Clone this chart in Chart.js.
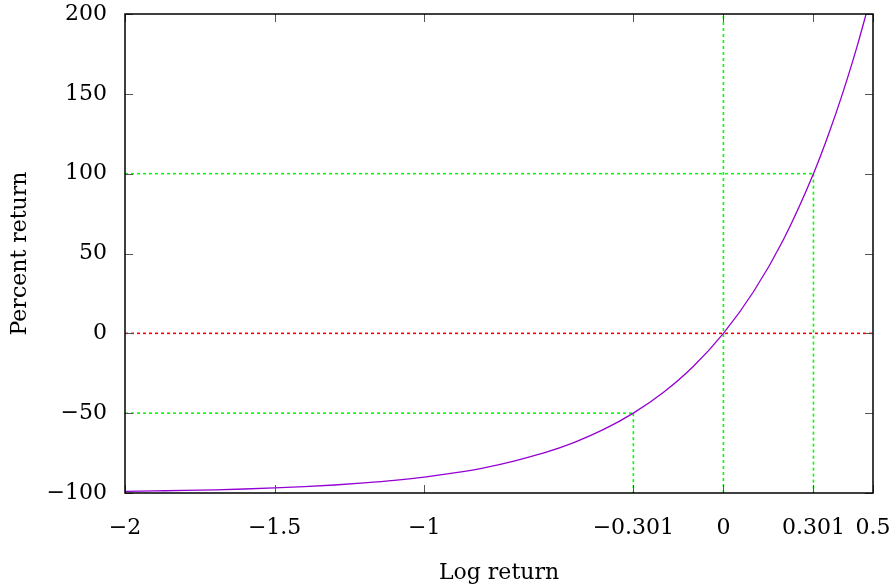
<!DOCTYPE html>
<html>
<head>
<meta charset="utf-8">
<script src="https://cdn.jsdelivr.net/npm/chart.js@4/dist/chart.umd.min.js"></script>
<style>
  html, body { margin: 0; padding: 0; background: #fff; }
  #wrap { width: 892px; height: 586px; }
</style>
</head>
<body>
<div id="wrap"><canvas id="returnChart" width="892" height="586"></canvas></div>
<script>
// log return vs percent return
var logReturn = [-2, -1.9, -1.8, -1.7, -1.6, -1.5, -1.4, -1.3, -1.2, -1.1, -1.0,
                 -0.9, -0.8, -0.7, -0.6, -0.5, -0.4, -0.301, -0.2, -0.1, 0,
                 0.1, 0.2, 0.301, 0.35, 0.4, 0.45, 0.477];
var percentReturn = [-99.0, -98.7, -98.4, -98.0, -97.5, -96.8, -96.0, -95.0, -93.7, -92.1, -90.0,
                     -87.4, -84.2, -80.0, -74.9, -68.4, -60.2, -50.0, -36.9, -20.6, 0,
                     25.9, 58.5, 100, 123.9, 151.2, 181.8, 200];

// guide lines: doubling, halving, break-even
var guideLog = [-0.301, 0, 0.301];
var guidePct = [-50, 0, 100];

var xTicks = [-2, -1.5, -1, -0.301, 0, 0.301, 0.5];
var yTicks = [-100, -50, 0, 50, 100, 150, 200];

var xMin = -2, xMax = 0.5, yMin = -100, yMax = 200;

var green = '#00ff00';
var red = '#ff0000';
var dots = [3, 3];
var serif = "'DejaVu Serif', serif";

function minus(v) {
	return String(v).replace('-', '\u2212');
}

function guide(points, color) {
	return {
		data: points,
		borderColor: color,
		borderWidth: 1.6,
		borderDash: dots,
		pointRadius: 0,
		pointHoverRadius: 0,
		showLine: true,
		fill: false,
		order: 1
	};
}

var curve = logReturn.map(function(v, i) { return {x: v, y: percentReturn[i]}; });

var datasets = [{
	label: 'return',
	data: curve,
	borderColor: '#9400d3',
	borderWidth: 1.3,
	pointRadius: 0,
	pointHoverRadius: 0,
	showLine: true,
	fill: false,
	cubicInterpolationMode: 'monotone',
	order: 0
},
	// break-even
	guide([{x: xMin, y: guidePct[1]}, {x: xMax, y: guidePct[1]}], red),
	guide([{x: guideLog[1], y: yMin}, {x: guideLog[1], y: yMax}], green),
	// doubling
	guide([{x: xMin, y: guidePct[2]}, {x: guideLog[2], y: guidePct[2]}], green),
	guide([{x: guideLog[2], y: guidePct[2]}, {x: guideLog[2], y: yMin}], green),
	// halving
	guide([{x: xMin, y: guidePct[0]}, {x: guideLog[0], y: guidePct[0]}], green),
	guide([{x: guideLog[0], y: guidePct[0]}, {x: guideLog[0], y: yMin}], green)
];

// box around the plot with inward ticks on all four sides
var frameTicks = {
	id: 'frameTicks',
	afterDatasetsDraw: function(chart) {
		var ctx = chart.ctx, a = chart.chartArea;
		var sx = chart.scales.x, sy = chart.scales.y;
		var len = 8;
		ctx.save();
		ctx.strokeStyle = '#555';
		ctx.lineWidth = 1;
		ctx.beginPath();
		xTicks.forEach(function(v) {
			var px = Math.round(sx.getPixelForValue(v)) + 0.5;
			ctx.moveTo(px, a.bottom); ctx.lineTo(px, a.bottom - len);
			ctx.moveTo(px, a.top); ctx.lineTo(px, a.top + len);
		});
		yTicks.forEach(function(v) {
			var py = Math.round(sy.getPixelForValue(v)) + 0.5;
			ctx.moveTo(a.left, py); ctx.lineTo(a.left + len, py);
			ctx.moveTo(a.right, py); ctx.lineTo(a.right - len, py);
		});
		ctx.stroke();
		ctx.strokeStyle = '#000';
		ctx.lineWidth = 1.5;
		ctx.strokeRect(a.left, a.top, a.right - a.left, a.bottom - a.top);
		ctx.restore();
	}
};

var ctx = document.getElementById('returnChart').getContext('2d');
var returnChart = new Chart(ctx, {
	type: 'scatter',
	data: { datasets: datasets },
	options: {
		responsive: false,
		animation: false,
		events: [],
		layout: { padding: 0, autoPadding: false },
		plugins: {
			legend: { display: false },
			tooltip: { enabled: false }
		},
		scales: {
			x: {
				type: 'linear',
				min: xMin,
				max: xMax,
				afterBuildTicks: function(scale) {
					scale.ticks = xTicks.map(function(v) { return {value: v}; });
				},
				afterFit: function(scale) {
					scale.height = 93;
					scale.paddingLeft = 0;
					scale.paddingRight = 19;
				},
				grid: { display: false, drawTicks: false },
				border: { display: false },
				ticks: {
					autoSkip: false,
					maxRotation: 0,
					padding: 22,
					color: '#000',
					font: { family: serif, size: 22 },
					callback: function(v) { return minus(v); }
				},
				title: {
					display: true,
					text: 'Log return',
					color: '#000',
					padding: { top: 5, bottom: 0 },
					font: { family: serif, size: 22 }
				}
			},
			y: {
				type: 'linear',
				min: yMin,
				max: yMax,
				afterBuildTicks: function(scale) {
					scale.ticks = yTicks.map(function(v) { return {value: v}; });
				},
				afterFit: function(scale) {
					scale.width = 125;
					scale.paddingTop = 14;
					scale.paddingBottom = 0;
				},
				grid: { display: false, drawTicks: false },
				border: { display: false },
				ticks: {
					autoSkip: false,
					padding: 18,
					color: '#000',
					font: { family: serif, size: 22 },
					callback: function(v) { return minus(v); }
				},
				title: {
					display: true,
					text: 'Percent return',
					color: '#000',
					padding: { top: 7, bottom: 0 },
					font: { family: serif, size: 22 }
				}
			}
		}
	},
	plugins: [frameTicks]
});
</script>
</body>
</html>
